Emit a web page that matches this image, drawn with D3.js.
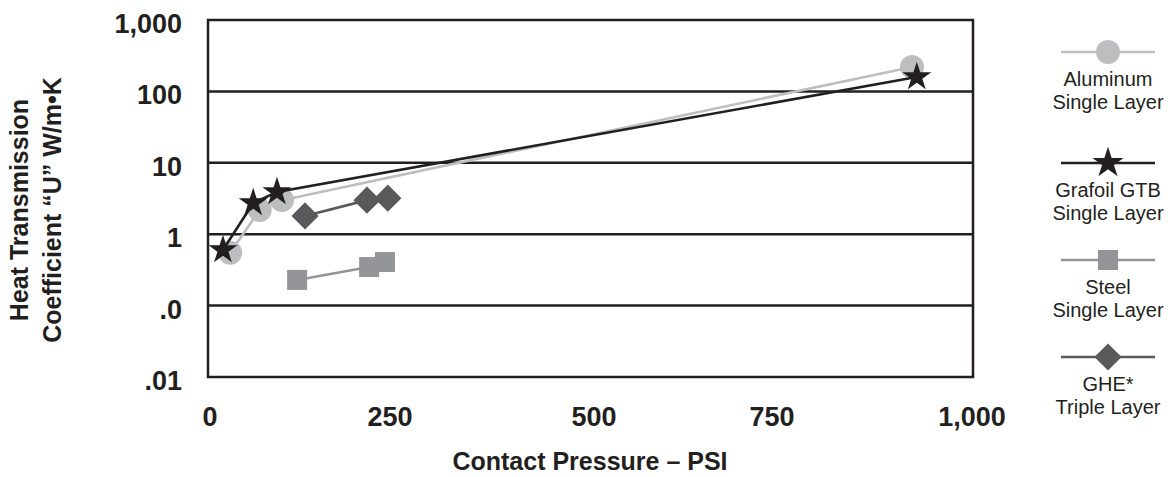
<!DOCTYPE html>
<html><head><meta charset="utf-8">
<script src="https://cdn.jsdelivr.net/npm/d3@7"></script>
<style>
html,body{margin:0;padding:0;background:#fff;}
svg{display:block;font-family:"Liberation Sans",Arial,Helvetica,sans-serif;}
</style></head>
<body>
<svg id="chart" width="1174" height="477"></svg>
<script>
// ---- data ----
const xTickValues = [0, 250, 500, 750, 1000];
const xTickLabels = ["0", "250", "500", "750", "1,000"];
const yTickValues = [1000, 100, 10, 1, 0.1, 0.01];
const yTickLabels = ["1,000", "100", "10", "1", ".0", ".01"];

const aluminumX = [28, 69, 100, 925];
const aluminumY = [0.55, 2.18, 3.0, 220];
const grafoilX = [18, 60, 93, 931];
const grafoilY = [0.60, 2.74, 3.9, 159];
const steelX = [121, 221, 243];
const steelY = [0.229, 0.347, 0.408];
const gheX = [132, 218, 247];
const gheY = [1.8, 3.0, 3.2];

const seriesNames = ["Aluminum", "Grafoil GTB", "Steel", "GHE*"];
const seriesSub = ["Single Layer", "Single Layer", "Single Layer", "Triple Layer"];

// ---- layout ----
const svg = d3.select("#chart");
const L = 208, R = 973, T = 20, B = 377;
const ink = "#231f20";
const colors = { al: "#bcbec0", gr: "#231f20", st: "#939598", ghe: "#58595b" };

const x = d3.scaleLinear().domain(xTickValues).range([210, 390, 594, 772, 972]);
const y = d3.scaleLog().domain([0.01, 1000]).range([B, T]);

// grid lines
svg.append("g").selectAll("line").data(yTickValues.filter(v => v > 0.01 && v < 1000))
  .join("line")
  .attr("x1", L).attr("x2", R)
  .attr("y1", d => y(d)).attr("y2", d => y(d))
  .attr("stroke", ink).attr("stroke-width", 2.5);

// frame
svg.append("rect").attr("x", L).attr("y", T).attr("width", R - L).attr("height", B - T)
  .attr("fill", "none").attr("stroke", ink).attr("stroke-width", 2.5);

// y tick labels
svg.append("g").selectAll("text").data(yTickValues).join("text")
  .attr("x", 182).attr("y", d => y(d) + 13)
  .attr("text-anchor", "end").attr("font-weight", "bold").attr("font-size", 27)
  .attr("fill", ink).text((d, i) => yTickLabels[i]);

// x tick labels
svg.append("g").selectAll("text").data(xTickValues).join("text")
  .attr("x", d => x(d)).attr("y", 426)
  .attr("text-anchor", "middle").attr("font-weight", "bold").attr("font-size", 27)
  .attr("fill", ink).text((d, i) => xTickLabels[i]);

// axis titles
svg.append("text").attr("x", 590).attr("y", 470).attr("text-anchor", "middle")
  .attr("font-weight", "bold").attr("font-size", 25).attr("fill", ink)
  .text("Contact Pressure – PSI");
const yt = svg.append("text").attr("transform", "translate(0,210) rotate(-90)")
  .attr("text-anchor", "middle").attr("font-weight", "bold").attr("font-size", 25).attr("fill", ink);
yt.append("tspan").attr("x", 0).attr("y", 28).text("Heat Transmission");
yt.append("tspan").attr("x", 0).attr("y", 61).text("Coefficient “U” W/m•K");

// markers
const starPath = d3.symbol().type(d3.symbolStar).size(260)();
const starPathLegend = d3.symbol().type(d3.symbolStar).size(300)();
const diamondPath = d3.symbol().type(d3.symbolSquare).size(370)();

function drawSeries(xs, ys, color, kind) {
  const pts = xs.map((v, i) => [x(v), y(ys[i])]);
  svg.append("path").attr("d", d3.line()(pts)).attr("fill", "none")
    .attr("stroke", color).attr("stroke-width", 2.6);
  const g = svg.append("g");
  pts.forEach(p => drawMarker(g, p[0], p[1], color, kind, false));
}
function drawMarker(g, cx, cy, color, kind, legend) {
  if (kind === "circle") {
    g.append("circle").attr("cx", cx).attr("cy", cy).attr("r", 12).attr("fill", color);
  } else if (kind === "star") {
    g.append("path").attr("d", legend ? starPathLegend : starPath)
      .attr("transform", `translate(${cx},${cy})`).attr("fill", color);
  } else if (kind === "square") {
    g.append("rect").attr("x", cx - 10).attr("y", cy - 10).attr("width", 20).attr("height", 20).attr("fill", color);
  } else {
    g.append("path").attr("d", diamondPath)
      .attr("transform", `translate(${cx},${cy}) rotate(45)`).attr("fill", color);
  }
}

drawSeries(aluminumX, aluminumY, colors.al, "circle");
drawSeries(steelX, steelY, colors.st, "square");
drawSeries(gheX, gheY, colors.ghe, "diamond");
drawSeries(grafoilX, grafoilY, colors.gr, "star");

// legend
const legendItems = [
  { c: colors.al, k: "circle", y: 52 },
  { c: colors.gr, k: "star", y: 163 },
  { c: colors.st, k: "square", y: 260 },
  { c: colors.ghe, k: "diamond", y: 357 }
];
const lg = svg.append("g");
legendItems.forEach((it, i) => {
  lg.append("line").attr("x1", 1061).attr("x2", 1155).attr("y1", it.y).attr("y2", it.y)
    .attr("stroke", it.c).attr("stroke-width", 2.6);
  drawMarker(lg, 1108, it.y, it.c, it.k, true);
  const t = lg.append("text").attr("text-anchor", "middle").attr("font-size", 20).attr("fill", ink);
  t.append("tspan").attr("x", 1108).attr("y", it.y + 34).text(seriesNames[i]);
  t.append("tspan").attr("x", 1108).attr("y", it.y + 57).text(seriesSub[i]);
});
</script>
</body></html>
